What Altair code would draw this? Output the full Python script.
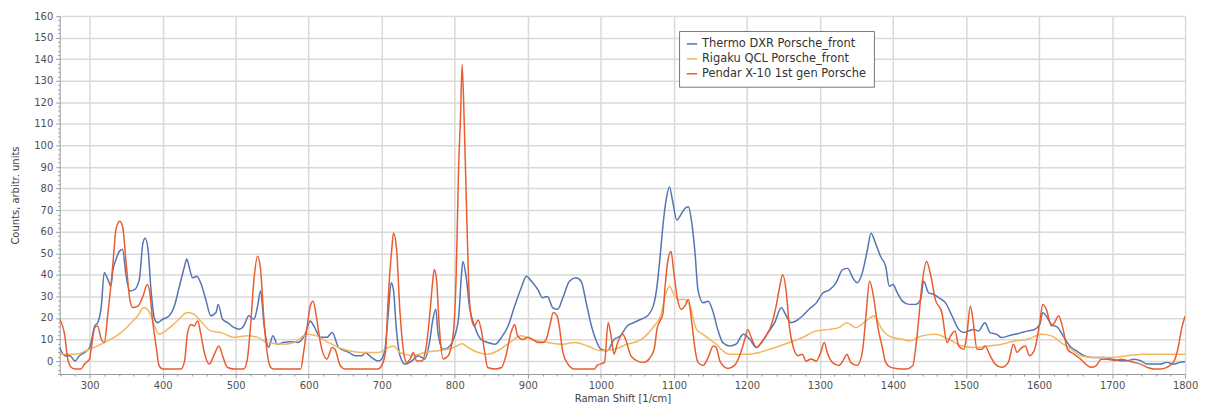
import altair as alt
import pandas as pd

# ---------------- data ----------------
SERIES = ["Thermo DXR Porsche_front", "Rigaku QCL Porsche_front", "Pendar X-10 1st gen Porsche"]
COLORS = ["#5474b4", "#f2b65e", "#e95c30"]

thermo_x = [259, 266, 273, 280, 286, 293, 300, 307, 311, 316, 320, 325, 329, 332, 336, 341, 345, 350, 355, 361,
            368, 373, 376, 380, 384, 389, 393, 400, 409, 416, 423, 430, 433, 436, 441, 447, 452, 459, 466, 473,
            476, 482, 489, 498, 505, 511, 518, 525, 530, 534, 539, 545, 551, 557, 565, 575, 585, 595, 602, 607,
            616, 625, 632, 641, 655, 664, 673, 677, 686, 695, 700, 705, 709, 713, 716, 720, 725, 732, 741, 750,
            759, 766, 770, 774, 777, 784, 791, 798, 805, 809, 811, 816, 820, 827, 836, 845, 855, 864, 873, 882,
            891, 898, 905, 914, 920, 927, 934, 941, 948, 957, 966, 973, 980, 986, 993, 1000, 1009, 1018, 1027, 1036,
            1045, 1055, 1064, 1073, 1077, 1081, 1086, 1090, 1094, 1098, 1104, 1108, 1115, 1120, 1124, 1129, 1133, 1140, 1147, 1154,
            1160, 1167, 1176, 1185, 1195, 1204, 1213, 1220, 1229, 1238, 1247, 1254, 1260, 1267, 1276, 1285, 1295, 1304, 1313, 1322,
            1331, 1338, 1345, 1351, 1358, 1365, 1370, 1376, 1383, 1390, 1395, 1400, 1406, 1413, 1422, 1431, 1438, 1442, 1449, 1456,
            1463, 1472, 1481, 1490, 1497, 1504, 1510, 1517, 1526, 1533, 1542, 1549, 1558, 1567, 1576, 1585, 1594, 1601, 1605, 1610,
            1617, 1626, 1633, 1642, 1651, 1662, 1671, 1680, 1689, 1700, 1712, 1721, 1730, 1739, 1748, 1757, 1766, 1775, 1784, 1793,
            1800]
thermo_y = [6.3, 2.5, 2.5, 0.0, 2.5, 4.0, 6.3, 16.3, 17.8, 25.5, 41.0, 37.8, 34.8, 42.5, 47.0, 51.0, 51.7, 39.4, 32.5, 33.0,
            37.8, 54.8, 57.0, 51.7, 33.0, 19.4, 17.8, 19.4, 21.0, 25.5, 34.8, 44.0, 47.4, 44.0, 38.6, 39.4, 36.3, 28.6, 21.0, 22.5,
            26.3, 19.4, 17.8, 15.5, 14.8, 16.3, 21.0, 19.4, 25.5, 32.5, 16.3, 6.3, 11.7, 7.8, 8.6, 9.0, 8.6, 12.5, 18.6, 16.3,
            11.0, 11.0, 13.2, 6.3, 4.0, 2.5, 2.5, 4.0, 1.7, 0.0, 1.0, 7.0, 22.5, 36.3, 33.0, 14.8, 2.5, -1.4, 0.0, 2.5,
            1.0, 10.0, 19.4, 24.0, 13.0, 5.5, 6.3, 10.0, 19.4, 39.4, 46.2, 37.8, 25.5, 16.3, 10.0, 8.6, 7.8, 11.0, 16.3, 25.5,
            34.0, 39.4, 37.0, 33.0, 29.4, 30.0, 24.8, 24.0, 29.4, 37.0, 38.6, 37.0, 27.0, 17.8, 10.0, 5.5, 4.8, 10.0, 11.7, 16.3,
            17.8, 19.4, 21.0, 27.0, 35.0, 48.0, 66.0, 76.0, 80.8, 74.7, 65.4, 67.0, 70.8, 71.6, 65.4, 50.0, 33.0, 27.0, 27.8, 22.4,
            14.7, 8.6, 7.0, 7.8, 12.4, 10.1, 6.3, 8.6, 13.2, 17.8, 24.7, 20.9, 17.8, 18.6, 20.9, 24.0, 27.0, 31.6, 33.0, 36.3,
            42.4, 43.0, 38.6, 36.3, 40.9, 51.6, 59.3, 54.7, 48.5, 43.9, 34.7, 35.5, 31.6, 27.8, 26.3, 26.3, 28.6, 37.0, 31.6, 30.9,
            29.3, 27.0, 20.9, 14.7, 13.2, 14.0, 14.7, 14.0, 17.8, 13.2, 12.4, 10.9, 11.7, 12.4, 13.2, 14.0, 14.7, 17.0, 22.4, 20.9,
            17.0, 15.5, 11.7, 7.0, 4.8, 2.5, 1.7, 1.7, 1.7, 0.9, 0.2, 0.2, 0.9, 0.2, -1.4, -1.4, -1.4, -0.6, -1.4, -0.6,
            -0.3]

rigaku_x = [259, 266, 280, 300, 320, 343, 357, 366, 374, 382, 389, 395, 407, 420, 434, 443, 452, 466, 480, 498,
            516, 530, 543, 566, 580, 598, 611, 627, 641, 655, 673, 695, 709, 716, 725, 741, 759, 777, 791, 800,
            810, 818, 832, 845, 859, 875, 891, 905, 927, 945, 964, 982, 1000, 1018, 1036, 1055, 1073, 1082, 1088, 1094,
            1099, 1106, 1115, 1122, 1131, 1140, 1149, 1158, 1167, 1176, 1190, 1204, 1217, 1231, 1245, 1258, 1276, 1295, 1313, 1326,
            1337, 1349, 1363, 1374, 1385, 1399, 1413, 1422, 1440, 1458, 1476, 1495, 1513, 1531, 1549, 1567, 1585, 1603, 1617, 1630,
            1644, 1657, 1676, 1698, 1721, 1743, 1766, 1789, 1800]
rigaku_y = [3.0, 3.2, 3.2, 5.5, 8.6, 13.2, 17.8, 21.0, 24.8, 22.5, 16.3, 12.5, 14.8, 18.6, 22.5, 21.7, 18.6, 14.0, 13.2, 11.0,
            11.7, 11.0, 8.6, 7.8, 8.6, 12.5, 11.7, 8.6, 6.3, 4.8, 4.0, 4.0, 6.3, 7.0, 4.0, 2.5, 4.0, 4.8, 5.5, 6.5,
            8.0, 6.3, 4.0, 3.2, 4.8, 8.6, 11.7, 10.0, 8.6, 7.8, 8.6, 7.0, 4.8, 5.5, 7.8, 10.0, 16.3, 21.0, 30.0, 34.7,
            31.6, 28.6, 28.6, 25.5, 14.7, 12.4, 10.1, 7.8, 4.8, 3.2, 3.2, 3.2, 4.0, 5.5, 7.0, 8.6, 10.9, 14.0, 14.7, 15.5,
            17.8, 15.5, 18.6, 20.9, 14.7, 10.9, 10.1, 9.4, 11.7, 12.4, 10.1, 7.0, 6.3, 7.0, 7.8, 9.4, 10.1, 12.4, 11.7, 8.6,
            5.5, 2.5, 1.7, 1.7, 2.5, 3.2, 3.2, 3.2, 3.2]

pendar_x = [259, 266, 270, 275, 280, 288, 293, 300, 302, 307, 311, 316, 320, 325, 332, 336, 341, 345, 350, 355,
            359, 366, 373, 379, 383, 386, 391, 395, 400, 425, 430, 434, 439, 443, 448, 452, 457, 464, 470, 477,
            482, 489, 498, 511, 516, 520, 525, 530, 534, 539, 543, 548, 552, 589, 593, 598, 602, 606, 611, 616,
            625, 632, 636, 643, 650, 695, 700, 705, 709, 714, 716, 720, 725, 730, 734, 739, 743, 748, 755, 761,
            766, 770, 772, 775, 779, 784, 791, 798, 802, 805, 808, 810, 813, 817, 820, 824, 827, 832, 836, 841,
            845, 855, 864, 870, 877, 882, 886, 893, 900, 907, 914, 920, 925, 930, 935, 940, 943, 948, 955, 964,
            991, 995, 1005, 1010, 1014, 1018, 1023, 1030, 1034, 1041, 1050, 1059, 1066, 1073, 1077, 1081, 1085, 1088, 1092, 1096,
            1100, 1105, 1110, 1115, 1120, 1124, 1129, 1133, 1140, 1147, 1154, 1158, 1163, 1167, 1174, 1183, 1190, 1197, 1201, 1206,
            1213, 1220, 1226, 1233, 1240, 1245, 1249, 1254, 1258, 1263, 1270, 1276, 1281, 1288, 1295, 1301, 1306, 1310, 1317, 1326,
            1333, 1337, 1342, 1351, 1358, 1363, 1368, 1374, 1379, 1385, 1390, 1397, 1404, 1418, 1427, 1433, 1440, 1446, 1452, 1458,
            1467, 1474, 1479, 1485, 1490, 1497, 1501, 1506, 1510, 1515, 1522, 1526, 1533, 1540, 1549, 1558, 1565, 1570, 1574, 1581,
            1587, 1594, 1601, 1605, 1610, 1617, 1621, 1627, 1633, 1639, 1648, 1657, 1664, 1671, 1678, 1685, 1694, 1703, 1712, 1721,
            1730, 1739, 1748, 1757, 1766, 1775, 1784, 1791, 1795, 1800]
pendar_y = [19.4, 11.7, 1.0, -3.0, -3.7, -3.7, -1.4, 1.0, 5.5, 15.5, 16.3, 10.0, 8.6, 22.0, 45.5, 61.0, 64.8, 62.5, 45.5, 28.6,
            24.8, 25.5, 30.0, 35.5, 30.0, 19.4, 7.0, -2.0, -3.7, -3.7, 0.0, 13.0, 17.0, 16.3, 18.6, 13.0, 4.0, -1.4, 2.5, 7.0,
            2.5, -3.0, -3.7, -3.7, 1.0, 14.8, 37.8, 48.6, 42.5, 17.8, 4.0, -3.0, -3.7, -3.7, 4.0, 16.3, 25.5, 27.8, 19.4, 8.6,
            1.0, 6.3, 5.5, -2.0, -3.7, -3.7, -2.0, 4.0, 30.0, 53.0, 59.4, 53.0, 22.5, 4.0, -0.6, 1.0, 4.0, 0.0, 0.0, 7.0,
            22.5, 37.8, 42.5, 37.8, 14.8, 1.0, 2.5, 13.2, 41.0, 87.0, 115.0, 137.6, 110.0, 59.4, 28.6, 18.0, 16.3, 19.0, 14.8, 4.0,
            -3.0, -3.7, -3.0, 2.5, 13.2, 17.0, 11.7, 10.0, 11.0, 10.0, 8.6, 8.6, 10.0, 16.3, 22.5, 21.0, 16.3, 4.0, -1.4, -3.7,
            -3.7, -2.0, -0.6, 17.8, 11.7, 3.2, 8.6, 12.5, 10.0, 2.5, 0.0, -0.6, 1.0, 5.5, 15.0, 18.6, 22.0, 34.7, 47.0, 50.8,
            40.9, 28.6, 24.0, 25.5, 28.6, 19.4, 5.5, -0.6, -2.0, 1.7, 7.0, 6.3, 0.0, -2.0, -3.4, -2.0, 2.5, 10.0, 14.7, 10.9,
            6.3, 8.6, 11.7, 16.3, 25.5, 34.7, 40.0, 31.6, 16.3, 7.0, 2.5, 3.2, 0.0, 1.0, 0.0, 4.0, 8.6, 4.0, -0.6, -2.0,
            1.0, 3.2, -0.6, -2.0, 4.0, 20.9, 37.0, 28.6, 16.3, 7.0, -0.6, -2.9, -3.4, -3.7, -2.2, 11.7, 36.3, 46.2, 39.3, 28.6,
            22.4, 8.6, 11.7, 14.0, 7.0, 5.5, 11.7, 25.5, 17.8, 5.5, 5.5, 7.0, 2.5, -1.4, -2.9, -0.6, 7.8, 4.0, 5.5, 7.0,
            2.5, 5.5, 17.8, 26.3, 24.0, 16.3, 17.8, 20.9, 14.7, 5.5, 3.2, 0.9, -1.4, -2.9, -2.2, 0.9, 0.9, 0.2, 0.9, 0.2,
            -0.6, -1.4, -2.9, -3.7, -3.7, -2.9, -0.6, 7.0, 14.7, 20.9]

X_TICKS = list(range(260, 1801, 20))
Y_TICKS = list(range(-6, 161, 2))

# ---------------- table ----------------
rows = []
for name, xs, ys in zip(SERIES, [thermo_x, rigaku_x, pendar_x], [thermo_y, rigaku_y, pendar_y]):
    for x, y in zip(xs, ys):
        rows.append({"shift": x, "counts": y, "series": name})
df = pd.DataFrame(rows)

FONT = "DejaVu Sans"

x_axis = alt.Axis(
    values=X_TICKS,
    format="d",
    title="Raman Shift [1/cm]",
    labelExpr="datum.value % 100 === 0 ? datum.label : ''",
    labelOverlap=False,
    labelFlush=False,
    gridOpacity={"condition": {"test": "datum.value % 100 === 0", "value": 1}, "value": 0},
    tickSize={"condition": {"test": "datum.value % 100 === 0", "value": 4}, "value": 2},
    labelPadding=3,
    titlePadding=3,
)
y_axis = alt.Axis(
    values=Y_TICKS,
    format="d",
    title="Counts, arbitr. units",
    labelExpr="datum.value % 10 === 0 ? datum.label : ''",
    labelOverlap=False,
    labelFlush=False,
    gridOpacity={"condition": {"test": "datum.value % 10 === 0", "value": 1}, "value": 0},
    tickSize={"condition": {"test": "datum.value % 10 === 0", "value": 4}, "value": 2},
    labelPadding=3,
    titlePadding=13,
)

chart = (
    alt.Chart(df)
    .mark_line(strokeWidth=1.5, interpolate="monotone", clip=True)
    .encode(
        x=alt.X("shift:Q", scale=alt.Scale(domain=[259, 1800], nice=False, zero=False), axis=x_axis),
        y=alt.Y("counts:Q", scale=alt.Scale(domain=[-6, 160], nice=False, zero=False), axis=y_axis),
        color=alt.Color(
            "series:N",
            scale=alt.Scale(domain=SERIES, range=COLORS),
            legend=alt.Legend(
                title=None,
                orient="none",
                legendX=623,
                legendY=15,
                symbolType="stroke",
                symbolStrokeWidth=1.5,
                symbolSize=110,
                labelFont=FONT,
                labelFontSize=11.5,
                labelColor="#333333",
                strokeColor="#777777",
                fillColor="#ffffff",
                padding=7,
                rowPadding=3,
                labelLimit=300,
            ),
        ),
        detail="series:N",
    )
    .properties(
        width=1132,
        height=360,
        autosize=alt.AutoSizeParams(type="none"),
        padding={"left": 52, "top": 7, "right": 14, "bottom": 30},
    )
    .configure_view(stroke=None)
    .configure_axis(
        labelFont=FONT,
        titleFont=FONT,
        labelFontSize=10,
        titleFontSize=10,
        titleFontWeight="normal",
        labelColor="#505050",
        titleColor="#404040",
        gridColor="#d9d9d9",
        gridWidth=1.5,
        domainColor="#9a9a9a",
        tickColor="#9a9a9a",
    )
)

chart.save("out.html", embed_options={"renderer": "svg", "actions": False})
